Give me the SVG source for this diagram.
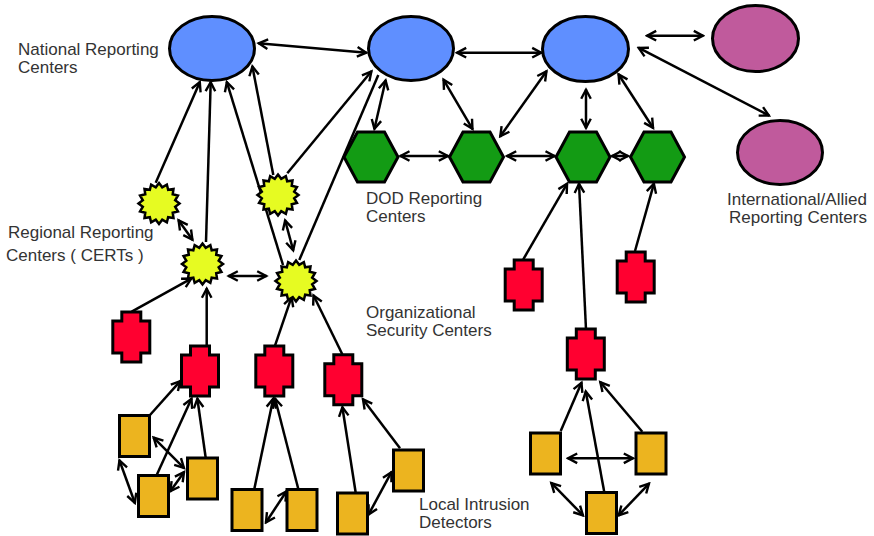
<svg xmlns="http://www.w3.org/2000/svg" xmlns:xlink="http://www.w3.org/1999/xlink" width="874" height="536" viewBox="0 0 874 536">
<style>
.nat{fill:#5f8fff;stroke:#000;stroke-width:3}
.intl{fill:#c05a9c;stroke:#000;stroke-width:3}
.dod{fill:#139b14;stroke:#000;stroke-width:3;stroke-linejoin:miter}
.reg{fill:#e6fb22;stroke:#000;stroke-width:2.5;stroke-linejoin:miter}
.org{fill:#ff0030;stroke:#000;stroke-width:3;stroke-linejoin:miter}
.lid{fill:#ecb41f;stroke:#000;stroke-width:3}
.c line{stroke:#000;stroke-width:2.5;fill:none}
.one{marker-end:url(#ah)}
.two{marker-end:url(#ah);marker-start:url(#ah)}
text{font-family:"Liberation Sans",Arial,Helvetica,sans-serif;font-size:17px;fill:#333}
</style>
<defs>
<marker id="ah" markerUnits="userSpaceOnUse" viewBox="-12 -7 14 14" refX="0" refY="0" markerWidth="14" markerHeight="14" orient="auto-start-reverse">
<path d="M-9.5,-4.8 L-0.5,0 L-9.5,4.8" fill="none" stroke="#000" stroke-width="2.4" stroke-linejoin="miter"/>
</marker>
<polygon id="hex" points="-27,0 -13.5,-25 13.5,-25 27,0 13.5,25 -13.5,25"/>
<polygon id="star" points="0,-20.5 3.22,-16.18 7.85,-18.94 9.17,-13.72 14.5,-14.5 13.72,-9.17 18.94,-7.85 16.18,-3.22 20.5,0 16.18,3.22 18.94,7.85 13.72,9.17 14.5,14.5 9.17,13.72 7.85,18.94 3.22,16.18 0,20.5 -3.22,16.18 -7.85,18.94 -9.17,13.72 -14.5,14.5 -13.72,9.17 -18.94,7.85 -16.18,3.22 -20.5,0 -16.18,-3.22 -18.94,-7.85 -13.72,-9.17 -14.5,-14.5 -9.17,-13.72 -7.85,-18.94 -3.22,-16.18"/>
<path id="cross" d="M-9.5,-25 H9.5 V-16 H18.5 V16 H9.5 V25 H-9.5 V16 H-18.5 V-16 H-9.5 Z"/>
</defs>
<rect width="874" height="536" fill="#fff"/>

<g id="connectors" class="c">
<line class="one" x1="155.7" y1="182.7" x2="200" y2="81.7"/>
<line class="one" x1="206" y1="242" x2="210.7" y2="81.7"/>
<line class="one" x1="283" y1="265" x2="226.7" y2="81.7"/>
<line class="one" x1="273.3" y1="175" x2="252.3" y2="66"/>
<line class="one" x1="287.3" y1="173.3" x2="371.7" y2="71"/>
<line x1="299.3" y1="260" x2="378.3" y2="75"/>
<line class="one" x1="131.7" y1="311.7" x2="191.7" y2="278.3"/>
<line class="one" x1="206.7" y1="345.7" x2="206.7" y2="288.3"/>
<line class="one" x1="275" y1="345.7" x2="291.7" y2="296.7"/>
<line class="one" x1="342.3" y1="354.3" x2="313.3" y2="295"/>
<line class="one" x1="150" y1="415" x2="180.7" y2="380.7"/>
<line class="one" x1="156.7" y1="475" x2="191.7" y2="398.3"/>
<line class="one" x1="205.7" y1="457.7" x2="197.3" y2="398.3"/>
<line class="one" x1="254.3" y1="489" x2="273.3" y2="398.3"/>
<line class="one" x1="298.3" y1="489" x2="275" y2="398.3"/>
<line class="one" x1="355.7" y1="492.7" x2="342.3" y2="406.7"/>
<line class="one" x1="400" y1="448.3" x2="362.7" y2="399"/>
<line class="one" x1="523.3" y1="259.3" x2="567.3" y2="183.3"/>
<line class="one" x1="586" y1="329.3" x2="579" y2="183.3"/>
<line class="one" x1="635" y1="251" x2="654" y2="183.3"/>
<line class="one" x1="560.7" y1="431" x2="581.7" y2="382.3"/>
<line class="one" x1="604.3" y1="492.3" x2="585.7" y2="391"/>
<line class="one" x1="642.3" y1="431.7" x2="600" y2="381.7"/>
<line class="two" x1="258.3" y1="43.3" x2="366.7" y2="52.7"/>
<line class="two" x1="456.7" y1="52.7" x2="541.7" y2="52.7"/>
<line class="two" x1="385.7" y1="80" x2="374.3" y2="129.3"/>
<line class="two" x1="443.3" y1="79.3" x2="472.7" y2="129.3"/>
<line class="two" x1="546.7" y1="71" x2="500" y2="136.7"/>
<line class="two" x1="400" y1="156" x2="448.3" y2="156"/>
<line class="two" x1="506.7" y1="156" x2="555" y2="156"/>
<line class="two" x1="611.7" y1="156" x2="628.3" y2="156"/>
<line class="two" x1="586" y1="89.3" x2="586" y2="128.3"/>
<line class="two" x1="618.3" y1="74" x2="653.3" y2="128.3"/>
<line class="two" x1="646.7" y1="35.7" x2="703.3" y2="35.7"/>
<line class="two" x1="638.3" y1="47.7" x2="769.3" y2="115.7"/>
<line class="two" x1="178.3" y1="220" x2="192.7" y2="240"/>
<line class="two" x1="285" y1="220" x2="293.3" y2="250.7"/>
<line class="two" x1="228.3" y1="276" x2="266.7" y2="276"/>
<line class="two" x1="119.3" y1="460" x2="135" y2="503.3"/>
<line class="two" x1="153.3" y1="437.3" x2="184.3" y2="468.3"/>
<line class="two" x1="170" y1="491.7" x2="184.3" y2="471.7"/>
<line class="two" x1="265.7" y1="522.7" x2="286.7" y2="491"/>
<line class="two" x1="368.3" y1="515" x2="391.7" y2="471.7"/>
<line class="two" x1="567.7" y1="458.3" x2="633.3" y2="458.3"/>
<line class="two" x1="551" y1="482.7" x2="583.3" y2="515.7"/>
<line class="two" x1="618.3" y1="515.7" x2="649.3" y2="483.3"/>
</g>

<g id="nat1"><ellipse class="nat" cx="212" cy="48.5" rx="42.5" ry="32"/></g>
<g id="nat2"><ellipse class="nat" cx="411" cy="48.5" rx="42.5" ry="32"/></g>
<g id="nat3"><ellipse class="nat" cx="585.5" cy="49" rx="43" ry="32.5"/></g>
<g id="intl1"><ellipse class="intl" cx="755.5" cy="38.5" rx="43" ry="33"/></g>
<g id="intl2"><ellipse class="intl" cx="780" cy="152.5" rx="42.5" ry="32"/></g>

<g id="dod1"><use xlink:href="#hex" href="#hex" class="dod" transform="translate(371,157)"/></g>
<g id="dod2"><use xlink:href="#hex" href="#hex" class="dod" transform="translate(476.5,157)"/></g>
<g id="dod3"><use xlink:href="#hex" href="#hex" class="dod" transform="translate(583,157)"/></g>
<g id="dod4"><use xlink:href="#hex" href="#hex" class="dod" transform="translate(657.5,157)"/></g>

<g id="reg1"><use xlink:href="#star" href="#star" class="reg" transform="translate(159,203.5)"/></g>
<g id="reg2"><use xlink:href="#star" href="#star" class="reg" transform="translate(278,195)"/></g>
<g id="reg3"><use xlink:href="#star" href="#star" class="reg" transform="translate(202.5,264)"/></g>
<g id="reg4"><use xlink:href="#star" href="#star" class="reg" transform="translate(296,281)"/></g>

<g id="org1"><use xlink:href="#cross" href="#cross" class="org" transform="translate(523.7,285)"/></g>
<g id="org2"><use xlink:href="#cross" href="#cross" class="org" transform="translate(635.7,277)"/></g>
<g id="org3"><use xlink:href="#cross" href="#cross" class="org" transform="translate(585.8,354)"/></g>
<g id="org4"><use xlink:href="#cross" href="#cross" class="org" transform="translate(131.3,337)"/></g>
<g id="org5"><use xlink:href="#cross" href="#cross" class="org" transform="translate(200,371)"/></g>
<g id="org6"><use xlink:href="#cross" href="#cross" class="org" transform="translate(274.3,371)"/></g>
<g id="org7"><use xlink:href="#cross" href="#cross" class="org" transform="translate(343.3,379.7)"/></g>

<g id="lidA"><rect class="lid" x="119.5" y="415.5" width="30" height="41"/></g>
<g id="lidB"><rect class="lid" x="138.5" y="475.5" width="30" height="41"/></g>
<g id="lidC"><rect class="lid" x="187.5" y="458" width="30" height="41"/></g>
<g id="lidD"><rect class="lid" x="232" y="489.5" width="30" height="41"/></g>
<g id="lidE"><rect class="lid" x="287" y="489.5" width="30" height="41"/></g>
<g id="lidF"><rect class="lid" x="337.5" y="493" width="30" height="41"/></g>
<g id="lidG"><rect class="lid" x="393.5" y="450" width="30" height="41"/></g>
<g id="lidH"><rect class="lid" x="530.5" y="433" width="30" height="41"/></g>
<g id="lidI"><rect class="lid" x="636" y="433" width="30" height="41"/></g>
<g id="lidJ"><rect class="lid" x="586.5" y="492.5" width="30" height="41"/></g>

<g id="labels">
<text x="18" y="54.5">National Reporting</text>
<text x="18" y="72.5">Centers</text>
<text x="8" y="238">Regional Reporting</text>
<text x="6" y="260.5" xml:space="preserve">Centers ( CERTs )</text>
<text x="366" y="203.5">DOD Reporting</text>
<text x="366" y="221.5">Centers</text>
<text x="366" y="317.5">Organizational</text>
<text x="366" y="335.5">Security Centers</text>
<text x="419" y="510">Local Intrusion</text>
<text x="419" y="528">Detectors</text>
<text x="727" y="204.5">International/Allied</text>
<text x="729" y="222.5">Reporting Centers</text>
</g>
</svg>
